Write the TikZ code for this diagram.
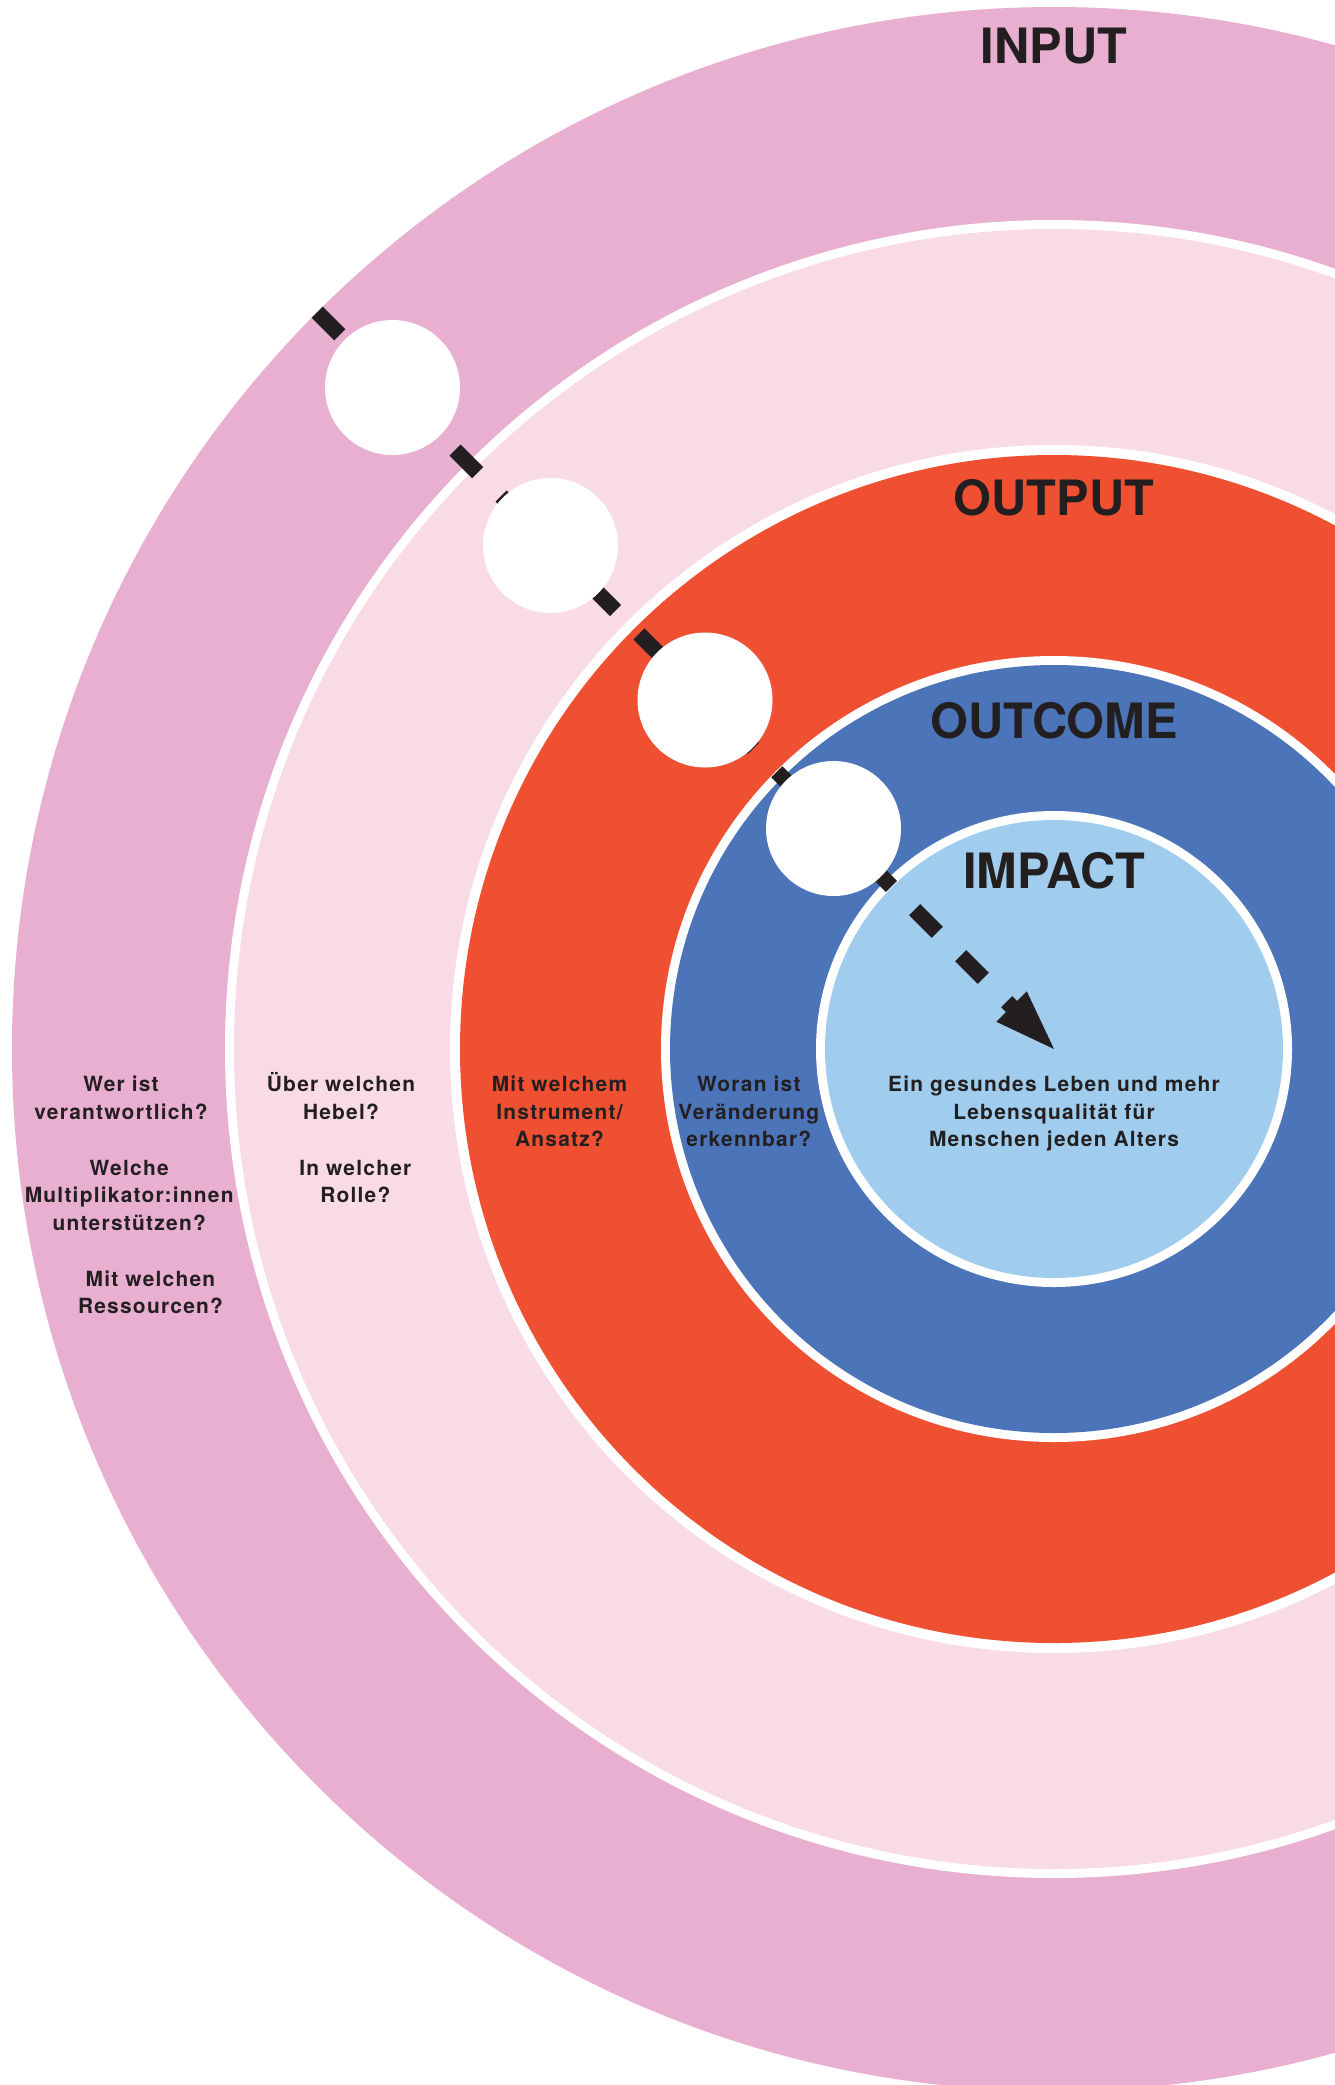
\documentclass[tikz,border=0pt]{standalone}
\usepackage{fontspec}
\setmainfont{TeX Gyre Heros}
\newfontfamily\questionfont[LetterSpace=6]{TeX Gyre Heros}
\usetikzlibrary{calc}

\definecolor{inputpink}{HTML}{E8AFD0}
\definecolor{leverpink}{HTML}{F9DBE8}
\definecolor{outputred}{HTML}{F05032}
\definecolor{outcomeblue}{HTML}{4B74B9}
\definecolor{impactblue}{HTML}{A0CDED}
\definecolor{ink}{HTML}{231F20}

\begin{document}
\begin{tikzpicture}[x=1pt,y=-1pt,
  title/.style={font=\bfseries\fontsize{48.7}{50}\selectfont, text=ink,
    anchor=base, inner sep=0pt},
  question/.style={font=\questionfont\bfseries\fontsize{20.9}{27.6}\selectfont,
    text=ink, anchor=base, inner sep=0pt, align=center, text width=440pt},
  stepdot/.style={circle, fill=white, minimum size=135pt, inner sep=0pt},
  dashline/.style={draw=ink, line width=15.6pt, dash pattern=on 32pt off 33pt}
]
\useasboundingbox (0,0) rectangle (1335,2085);
\clip (0,0) rectangle (1335,2085);
\fill[white] (0,0) rectangle (1335,2085);

\coordinate (C) at (1054,1049);

% concentric rings, each separated by a thin white band
\fill[inputpink]   (C) circle[radius=1042];
\fill[white]       (C) circle[radius=829];
\fill[leverpink]   (C) circle[radius=820];
\fill[white]       (C) circle[radius=604];
\fill[outputred]   (C) circle[radius=594];
\fill[white]       (C) circle[radius=393];
\fill[outcomeblue] (C) circle[radius=384];
\fill[white]       (C) circle[radius=238];
\fill[impactblue]  (C) circle[radius=229];

% dashed path from the outer edge into the centre
\coordinate (S) at ($(C)+(-736.8,-736.8)$);
\coordinate (E) at ($(C)+(-25,-25)$);
\draw[dashline] (S) -- (E);
\coordinate (headL) at ($(C)+(-27.2,-57.6)$);
\coordinate (headR) at ($(C)+(-57.6,-27.2)$);
\fill[ink] (C) -- (headL) -- (headR) -- cycle;

% stepping stones, one in the middle of each outer ring
\node[stepdot] (w1) at ($(C)+(-661.5,-661.5)$) {};
\node[stepdot] (w2) at ($(C)+(-503.5,-503.5)$) {};
\node[stepdot] (w3) at ($(C)+(-349,-349)$) {};
\node[stepdot] (w4) at ($(C)+(-220.5,-220.5)$) {};

% ring titles
\node[title] (tInput)   at (1054,63.3)  {INPUT};
\node[title] (tOutput)  at (1054,515.5) {OUTPUT};
\node[title] (tOutcome) at (1054,738)   {OUTCOME};
\node[title] (tImpact)  at (1054,888.3) {IMPACT};

% guiding questions
\node[question] (qWer)    at (121,1091.7)   {Wer ist\\verantwortlich?};
\node[question] (qWelche) at (129.2,1175)   {Welche\\Multiplikator:innen\\unterstützen?};
\node[question] (qRes)    at (150.5,1286)   {Mit welchen\\Ressourcen?};
\node[question] (qHebel)  at (341,1091.7)   {Über welchen\\Hebel?};
\node[question] (qRolle)  at (355.3,1175)   {In welcher\\Rolle?};
\node[question] (qInstr)  at (559.5,1091.7) {Mit welchem\\Instrument/\\Ansatz?};
\node[question] (qWoran)  at (748.8,1091.7) {Woran ist\\Veränderung\\erkennbar?};
\node[question] (qImpact) at (1054,1091.7)  {Ein gesundes Leben und mehr\\Lebensqualität für\\Menschen jeden Alters};
\end{tikzpicture}
\end{document}
